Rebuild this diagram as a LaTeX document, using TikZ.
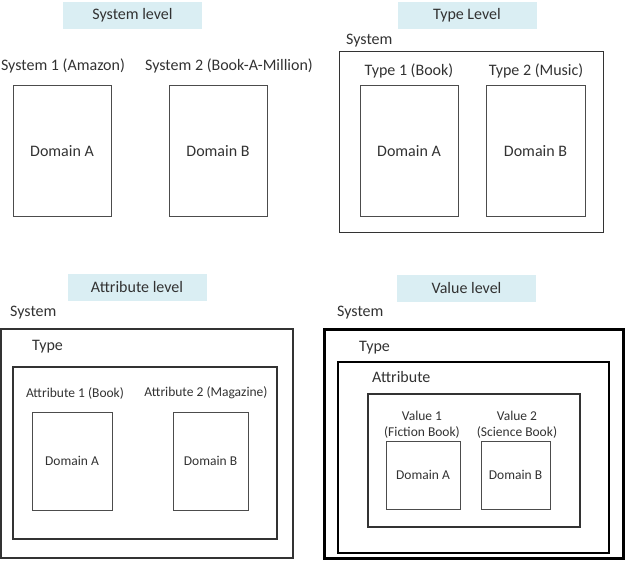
\documentclass[tikz,border=0pt]{standalone}
\usepackage{fontspec}
\setmainfont{Carlito}
\usepackage{tikz}
\usetikzlibrary{positioning}

\definecolor{bannerblue}{RGB}{218,238,243}
\definecolor{inkgray}{RGB}{50,50,50}

\begin{document}
\begin{tikzpicture}[x=1pt,y=-1pt,
    banner/.style={fill=bannerblue, minimum width=139pt, minimum height=27pt,
        inner sep=0pt, font=\fontsize{16}{18}\selectfont, text=inkgray},
    lbl/.style={inner sep=0pt, font=\fontsize{16}{18}\selectfont, text=inkgray},
    small/.style={inner sep=0pt, font=\fontsize{13.5}{16}\selectfont, text=inkgray, align=center},
    box/.style={draw=black!70, line width=1pt, inner sep=0pt},
    frame/.style={draw=black!80, line width=1pt, inner sep=0pt},
]
    \useasboundingbox (0,0) rectangle (626,564);

    % system level
    \node[banner] (sysbanner) at (132.5,15.5) {System level};
    \node[lbl] (sysone) at (63,66) {System 1 (Amazon)};
    \node[lbl] (systwo) at (229,66) {System 2 (Book-A-Million)};
    \node[box, lbl, minimum width=98pt, minimum height=130pt] (sysdoma) at (62,151) {Domain A};
    \node[box, lbl, minimum width=98pt, minimum height=130pt] (sysdomb) at (218,151) {Domain B};

    % type level
    \node[banner] (typebanner) at (467,15.5) {Type Level};
    \node[frame, minimum width=264pt, minimum height=180pt] (typesys) at (471,142) {};
    \node[lbl, anchor=west] (typesyslbl) at (346,41) {System};
    \node[lbl] (typeone) at (409,71) {Type 1 (Book)};
    \node[lbl] (typetwo) at (536,71) {Type 2 (Music)};
    \node[box, lbl, minimum width=98pt, minimum height=130pt] (typedoma) at (409,151) {Domain A};
    \node[box, lbl, minimum width=99pt, minimum height=130pt] (typedomb) at (535.5,151) {Domain B};

    % attribute level
    \node[banner] (attrbanner) at (137,287.5) {Attribute level};
    \node[frame, line width=2pt, minimum width=292.5pt, minimum height=229pt] (attrsys) at (146.75,443.5) {};
    \node[lbl, anchor=west] (attrsyslbl) at (10,313) {System};
    \node[frame, line width=1.5pt, minimum width=264pt, minimum height=172pt] (attrtype) at (145,453) {};
    \node[lbl, anchor=west] (attrtypelbl) at (32,347) {Type};
    \node[small] (attrone) at (75,393) {Attribute 1 (Book)};
    \node[small] (attrtwo) at (206,393) {Attribute 2 (Magazine)};
    \node[box, small, minimum width=80pt, minimum height=98pt] (attrdoma) at (72,461) {Domain A};
    \node[box, small, minimum width=75pt, minimum height=98pt] (attrdomb) at (210.5,461) {Domain B};

    % value level
    \node[banner] (valbanner) at (466.5,288.5) {Value level};
    \node[frame, line width=3pt, draw=black, minimum width=299pt, minimum height=229pt] (valsys) at (473.5,443.5) {};
    \node[lbl, anchor=west] (valsyslbl) at (337,313) {System};
    \node[frame, line width=2pt, draw=black, minimum width=271pt, minimum height=191pt] (valtype) at (473.5,457.5) {};
    \node[lbl, anchor=west] (valtypelbl) at (359,348) {Type};
    \node[frame, line width=1.3pt, minimum width=212pt, minimum height=133pt] (valattr) at (474,460.5) {};
    \node[lbl, anchor=west] (valattrlbl) at (372,377) {Attribute};
    \node[small] (valone) at (422,424.5) {Value 1\\(Fiction Book)};
    \node[small] (valtwo) at (517,424.5) {Value 2\\(Science Book)};
    \node[box, small, minimum width=74pt, minimum height=68pt] (valdoma) at (423,475) {Domain A};
    \node[box, small, minimum width=69pt, minimum height=68pt] (valdomb) at (515.5,475) {Domain B};
\end{tikzpicture}
\end{document}
